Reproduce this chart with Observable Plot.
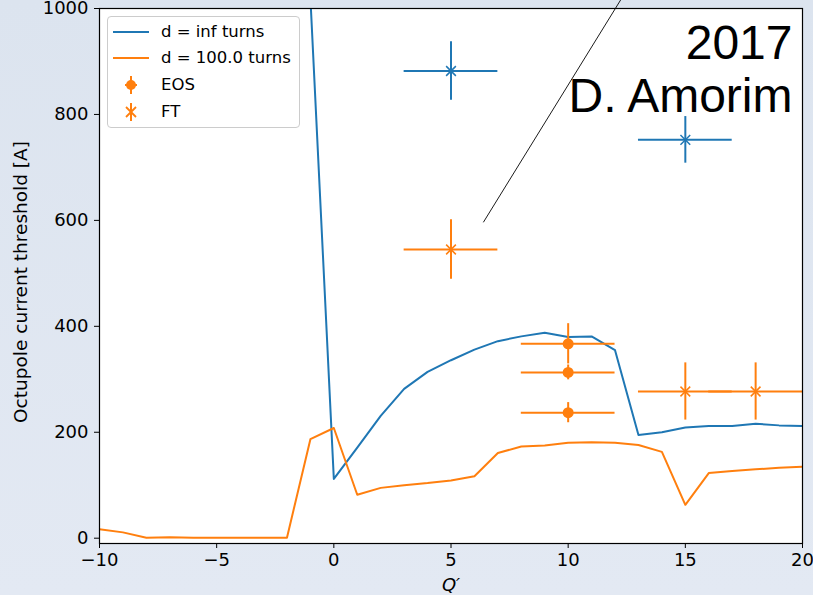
<!DOCTYPE html>
<html>
<head>
<meta charset="utf-8">
<script src="https://cdn.jsdelivr.net/npm/d3@7"></script>
<script src="https://cdn.jsdelivr.net/npm/@observablehq/plot@0.6"></script>
<style>
  html, body { margin: 0; padding: 0; }
  body { width: 813px; height: 595px; background: linear-gradient(#dce4ef, #e3e9f3); overflow: hidden; }
  #wrap { position: relative; width: 813px; height: 595px; }
  #legend { position: absolute; left: 107px; top: 16px; width: 193px; height: 112px; box-sizing: border-box;
    border: 1px solid #cccccc; border-radius: 4px; background: rgba(255,255,255,0.85);
    font-family: "DejaVu Sans", sans-serif; font-size: 16.5px; color: #000; }
  .row { position: absolute; left: 0; height: 20px; width: 190px; }
  .row span { position: absolute; left: 53px; top: 0; line-height: 20px; white-space: nowrap; }
</style>
</head>
<body>
<div id="wrap"></div>
<script>
// ---- data ----
const infX = [-1, 0, 1, 2, 3, 4, 5, 6, 7, 8, 9, 10, 11, 12, 13, 14, 15, 16, 17, 18, 19, 20];
const infY = [1020, 112, 171, 231, 282, 314, 336, 356, 372, 381, 388, 380, 381, 355, 195, 200, 209, 212, 212, 216, 213, 212];

const d100X = [-10, -9, -8, -7, -6, -5, -4, -3, -2, -1, 0, 1, 2, 3, 4, 5, 6, 7, 8, 9, 10, 11, 12, 13, 14, 15, 16, 17, 18, 19, 20];
const d100Y = [17, 11, 1, 2, 1, 1, 1, 1, 1, 187, 208, 82, 95, 100, 104, 109, 117, 161, 173, 175, 180, 181, 180, 176, 163, 63, 123, 127, 130, 133, 135];

const ftInfX = [5, 15];
const ftInfY = [882, 752];
const ftInfXerr = [2, 2];
const ftInfYerr = [55, 44];

const ft100X = [5, 15, 18];
const ft100Y = [545, 277, 277];
const ft100Xerr = [2, 2, 2];
const ft100Yerr = [56, 54, 54];

const eosX = [10, 10, 10];
const eosY = [367, 313, 237];
const eosXerr = [2, 2, 2];
const eosYerr = [38, 14, 19];

const xTicks = [-10, -5, 0, 5, 10, 15, 20];
const yTicks = [0, 200, 400, 600, 800, 1000];

// annotation line (data coords)
const annX = [6.39, 12.6];
const annY = [597, 1042];

const BLUE = "#1f77b4", ORANGE = "#ff7f0e";

const toRows = (xs, ys) => xs.map((x, i) => ({x, y: ys[i]}));
const toErr = (xs, ys, xe, ye) => xs.map((x, i) => ({x, y: ys[i], x1: x - xe[i], x2: x + xe[i], y1: ys[i] - ye[i], y2: ys[i] + ye[i]}));

const infRows = toRows(infX, infY);
const d100Rows = toRows(d100X, d100Y);
const ftInf = toErr(ftInfX, ftInfY, ftInfXerr, ftInfYerr);
const ft100 = toErr(ft100X, ft100Y, ft100Xerr, ft100Yerr);
const eos = toErr(eosX, eosY, eosXerr, eosYerr);

function errMarks(data, color, symbol, r) {
  return [
    Plot.ruleY(data, {y: "y", x1: "x1", x2: "x2", stroke: color, strokeWidth: 2, clip: true}),
    Plot.ruleX(data, {x: "x", y1: "y1", y2: "y2", stroke: color, strokeWidth: 2, clip: true}),
    symbol === "circle"
      ? Plot.dot(data, {x: "x", y: "y", r, fill: color, stroke: "none", clip: true})
      : Plot.dot(data, {x: "x", y: "y", r, symbol: "times", stroke: color, strokeWidth: 1.5, clip: true})
  ];
}

const chart = Plot.plot({
  width: 813,
  height: 595,
  marginLeft: 99,
  marginRight: 11,
  marginTop: 8,
  marginBottom: 52,
  style: {fontFamily: "DejaVu Sans, sans-serif", fontSize: "18px", background: "transparent", color: "black", overflow: "visible"},
  x: {domain: [-10, 20], ticks: xTicks, label: null},
  y: {domain: [-10, 1000], ticks: yTicks, label: null},
  marks: [
    Plot.frame({fill: "white", stroke: "none"}),
    Plot.axisX({ticks: xTicks, tickSize: 5, tickPadding: 5, label: null, tickFormat: d => d < 0 ? "\u2212" + Math.abs(d) : String(d)}),
    Plot.axisY({ticks: yTicks, tickSize: 5, tickPadding: 6, label: null, tickFormat: d => String(d)}),
    Plot.line(infRows, {x: "x", y: "y", stroke: BLUE, strokeWidth: 2, clip: true}),
    Plot.line(d100Rows, {x: "x", y: "y", stroke: ORANGE, strokeWidth: 2, clip: true}),
    ...errMarks(eos, ORANGE, "circle", 5.5),
    ...errMarks(ft100, ORANGE, "times", 4.5),
    ...errMarks(ftInf, BLUE, "times", 4.5),
    Plot.line(toRows(annX, annY), {x: "x", y: "y", stroke: "black", strokeWidth: 0.9}),
    Plot.text(["2017"], {frameAnchor: "top-right", dx: -10, dy: 16, fontSize: 48, fontFamily: "Liberation Sans, Arial, sans-serif", fill: "black", textAnchor: "end", lineAnchor: "top"}),
    Plot.text(["D. Amorim"], {frameAnchor: "top-right", dx: -10, dy: 69, fontSize: 48, fontFamily: "Liberation Sans, Arial, sans-serif", fill: "black", textAnchor: "end", lineAnchor: "top"}),
    Plot.text(["Octupole current threshold [A]"], {frameAnchor: "left", dx: -78, dy: 6, rotate: -90, fontSize: 18.5, fill: "black", textAnchor: "middle"}),
    Plot.text(["Q\u2032"], {frameAnchor: "bottom", dy: 35, fontSize: 18, fontStyle: "italic", fill: "black", lineAnchor: "top"}),
    Plot.frame({stroke: "black", strokeWidth: 1.2})
  ]
});

const wrap = document.getElementById("wrap");
wrap.appendChild(chart);

// legend
const legend = document.createElement("div");
legend.id = "legend";
const entries = [
  {label: "d = inf turns", kind: "line", color: BLUE, top: 15},
  {label: "d = 100.0 turns", kind: "line", color: ORANGE, top: 41},
  {label: "EOS", kind: "circle", color: ORANGE, top: 68},
  {label: "FT", kind: "star", color: ORANGE, top: 95}
];
for (const e of entries) {
  const row = document.createElement("div");
  row.className = "row";
  row.style.top = (e.top - 10) + "px";
  let g = "";
  if (e.kind === "line") g = `<line x1="0" x2="36" y1="10" y2="10" stroke="${e.color}" stroke-width="2"/>`;
  else if (e.kind === "circle") g = `<line x1="12" x2="24" y1="10" y2="10" stroke="${e.color}" stroke-width="2"/><line x1="18" x2="18" y1="1" y2="19" stroke="${e.color}" stroke-width="2"/><circle cx="18" cy="10" r="5" fill="${e.color}"/>`;
  else g = `<line x1="18" x2="18" y1="1" y2="19" stroke="${e.color}" stroke-width="2"/><line x1="13" x2="23" y1="5" y2="15" stroke="${e.color}" stroke-width="1.8"/><line x1="13" x2="23" y1="15" y2="5" stroke="${e.color}" stroke-width="1.8"/>`;
  row.innerHTML = `<svg width="40" height="20" style="position:absolute;left:5px;top:0">${g}</svg><span>${e.label}</span>`;
  legend.appendChild(row);
}
wrap.appendChild(legend);
</script>
</body>
</html>
